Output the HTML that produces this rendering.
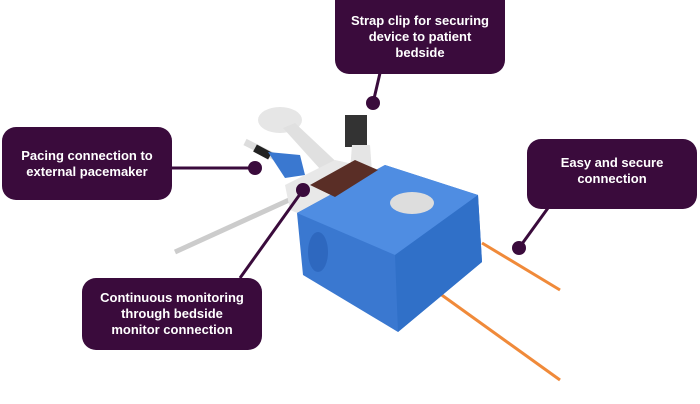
<!DOCTYPE html>
<html><head><style>
html,body{margin:0;padding:0;background:#fff;}
.b{position:absolute;background:#3a0b3c;border-radius:14px;color:#fff;font:bold 13px/16px "Liberation Sans",sans-serif;display:flex;align-items:center;justify-content:center;text-align:center;}
</style></head><body>
<div style="position:relative;width:700px;height:404px;overflow:hidden">
<svg width="700" height="404" style="position:absolute;left:0;top:0">
<line x1="175" y1="252" x2="300" y2="195" stroke="#ccc" stroke-width="5"/>
<line x1="432" y1="288" x2="560" y2="380" stroke="#f08a3a" stroke-width="3"/>
<line x1="482" y1="243" x2="560" y2="290" stroke="#f08a3a" stroke-width="3"/>
<line x1="245" y1="142" x2="275" y2="157" stroke="#ddd" stroke-width="7"/>
<line x1="255" y1="148" x2="270" y2="156" stroke="#222" stroke-width="8"/>
<path d="M268 152 L300 155 L305 175 L285 178 Z" fill="#3a78d0"/>
<ellipse cx="280" cy="120" rx="22" ry="13" fill="#e6e6e6"/>
<path d="M283 128 L330 180 L345 170 L295 123 Z" fill="#e0e0e0"/>
<rect x="345" y="115" width="22" height="32" fill="#333"/>
<path d="M352 145 L370 145 L372 172 L350 172 Z" fill="#e5e5e5"/>
<path d="M285 185 L335 160 L390 172 L385 205 L320 222 L290 210 Z" fill="#e8e8e8"/>
<path d="M297 213 L385 165 L478 195 L482 262 L398 332 L303 275 Z" fill="#3a78d0"/>
<path d="M297 213 L385 165 L478 195 L395 255 Z" fill="#4f8de2"/>
<path d="M395 255 L478 195 L482 262 L398 332 Z" fill="#3070c8"/>
<path d="M310 185 L355 160 L378 170 L335 197 Z" fill="#5a2e26"/>
<ellipse cx="412" cy="203" rx="22" ry="11" fill="#ddd"/>
<ellipse cx="318" cy="252" rx="10" ry="20" fill="#2e68bf"/>
<g stroke="#3a0b3c" stroke-width="3" fill="none">
<line x1="373" y1="103" x2="380" y2="73"/>
<line x1="172" y1="168" x2="255" y2="168"/>
<line x1="519" y1="248" x2="548" y2="208"/>
<line x1="303" y1="190" x2="240" y2="278"/>
</g>
<g fill="#3a0b3c">
<circle cx="373" cy="103" r="7"/>
<circle cx="255" cy="168" r="7"/>
<circle cx="519" cy="248" r="7"/>
<circle cx="303" cy="190" r="7"/>
</g>
</svg>
<div class="b" style="left:335px;top:0;width:170px;height:74px;border-radius:0 0 14px 14px">Strap clip for securing<br>device to patient<br>bedside</div>
<div class="b" style="left:2px;top:127px;width:170px;height:73px">Pacing connection to<br>external pacemaker</div>
<div class="b" style="left:527px;top:139px;width:170px;height:70px;align-items:flex-start;padding-top:16px;box-sizing:border-box">Easy and secure<br>connection</div>
<div class="b" style="left:82px;top:278px;width:180px;height:72px">Continuous monitoring<br>through bedside<br>monitor connection</div>
</div>
</body></html>
